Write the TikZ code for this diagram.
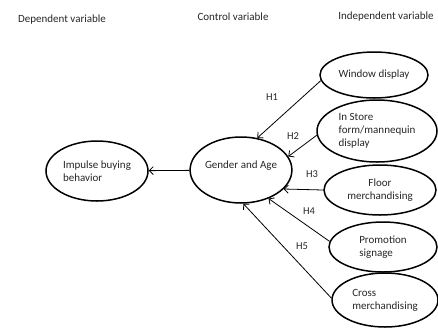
\documentclass[tikz,border=0pt]{standalone}
\usepackage{fontspec}
\setmainfont{Carlito}
\usetikzlibrary{shapes.geometric, arrows.meta}

\begin{document}
\begin{tikzpicture}[x=1pt, y=-1pt,
    every node/.style={font=\fontsize{11}{13}\selectfont, text=black!85},
    var/.style={ellipse, draw=black, line width=1.5pt, inner sep=0pt},
    link/.style={-{Straight Barb[length=4pt, width=8pt]}, line width=0.8pt},
    hyp/.style={font=\fontsize{10.5}{12}\selectfont}]
    \useasboundingbox (0, 0) rectangle (438, 330);

    % column titles
    \node (tdep) at (62, 20) {Dependent variable};
    \node (tcon) at (233, 17) {Control variable};
    \node (tind) at (386, 17) {Independent variable};

    % dependent and control
    \node[var, minimum width=102, minimum height=60, align=left] (imp) at (97, 171) {Impulse buying\\behavior};
    \node[var, minimum width=97, minimum height=66, text depth=10pt] (gen) at (241, 170) {Gender and Age};

    % independent variables
    \node[var, minimum width=108, minimum height=46] (win) at (374, 75) {Window display};
    \node[var, minimum width=120, minimum height=62, align=left] (sto) at (377, 131) {In Store\\form/mannequin\\display};
    \node[var, minimum width=112, minimum height=50, align=center] (flo) at (380, 190) {Floor\\merchandising};
    \node[var, minimum width=108, minimum height=50, align=left] (pro) at (383, 247) {Promotion\\signage};
    \node[var, minimum width=106, minimum height=54, align=left] (cro) at (385, 300) {Cross\\merchandising};

    % hypotheses
    \draw[link] (win.186) -- (gen.63);
    \draw[link] (sto.184) -- (gen.16);
    \draw[link] (flo.west) -- (gen.-24);
    \draw[link] (pro.174) -- (gen.-46);
    \draw[link] (cro.178) -- (gen.-86);
    \draw[link] (gen) -- (imp);

    \node[hyp] (h1) at (272, 97) {H1};
    \node[hyp] (h2) at (293, 136) {H2};
    \node[hyp] (h3) at (312, 174) {H3};
    \node[hyp] (h4) at (309, 211) {H4};
    \node[hyp] (h5) at (302, 246) {H5};
\end{tikzpicture}
\end{document}
